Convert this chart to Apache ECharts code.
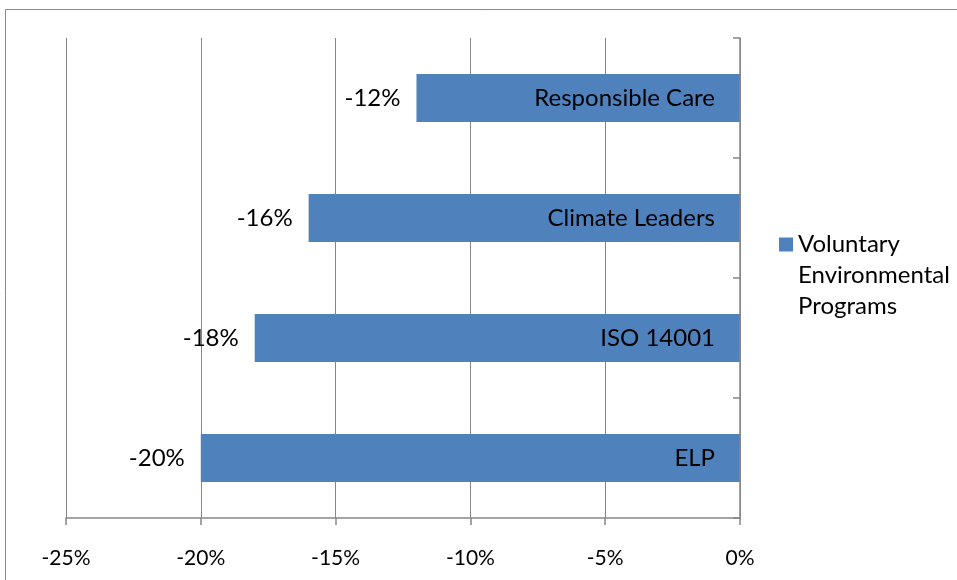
<!DOCTYPE html>
<html>
<head>
<meta charset="utf-8">
<script src="https://cdn.jsdelivr.net/npm/echarts@6/dist/echarts.min.js"></script>
<style>
  html, body { margin: 0; padding: 0; background: #fff; }
  #chart { width: 957px; height: 580px; }
</style>
</head>
<body>
<div id="chart"></div>
<script>
// 项目名称（自下而上）
var programs = ['ELP', 'ISO 14001', 'Climate Leaders', 'Responsible Care'];
// 变化百分比
var changes = [-20, -18, -16, -12];
// 横轴刻度
var xTicks = { min: -25, max: 0, interval: 5 };
var seriesName = 'Voluntary Environmental Programs';

var font = 'Lato, "Open Sans", sans-serif';
var chart = echarts.init(document.getElementById('chart'));

chart.setOption({
    animation: false,
    graphic: [{
        type: 'rect',
        shape: { x: 5.5, y: 9.5, width: 1200, height: 1200 },
        style: { fill: 'none', stroke: '#8a8a8a', lineWidth: 1 },
        silent: true
    }],
    legend: {
        left: 779,
        top: 167,
        padding: 0,
        icon: 'rect',
        itemWidth: 14,
        itemHeight: 14,
        itemGap: 0,
        data: [seriesName],
        // 图例文字首行与色块对齐：前面补两行空白
        formatter: function (name) {
            return ' \n \n' + name.split(' ').join('\n');
        },
        textStyle: {
            fontFamily: font,
            fontSize: 24,
            color: '#000',
            lineHeight: 31
        }
    },
    grid: {
        left: 66,
        right: 217,
        top: 38,
        bottom: 62
    },
    xAxis: {
        type: 'value',
        min: xTicks.min,
        max: xTicks.max,
        interval: xTicks.interval,
        axisLine: { show: true, lineStyle: { color: '#868686', width: 1.5 } },
        axisTick: { show: true, length: 7, lineStyle: { color: '#868686', width: 1.5 } },
        axisLabel: {
            formatter: '{value}%',
            fontFamily: font,
            fontSize: 21,
            color: '#000',
            margin: 30
        },
        splitLine: { show: true, lineStyle: { color: '#868686', width: 1 } }
    },
    yAxis: {
        type: 'category',
        position: 'right',
        data: programs,
        z: 10,
        axisLine: { show: true, lineStyle: { color: '#868686', width: 1.5 } },
        axisTick: { show: true, inside: true, length: 7, lineStyle: { color: '#868686', width: 1.5 } },
        axisLabel: {
            inside: true,
            margin: 25,
            fontFamily: font,
            fontSize: 24,
            color: '#000'
        }
    },
    series: [{
        name: seriesName,
        type: 'bar',
        data: changes,
        barCategoryGap: '60%',
        itemStyle: { color: '#4F81BD' },
        label: {
            show: true,
            position: 'left',
            distance: 16,
            formatter: '{c}%',
            fontFamily: font,
            fontSize: 24,
            color: '#000'
        }
    }]
});
</script>
</body>
</html>
